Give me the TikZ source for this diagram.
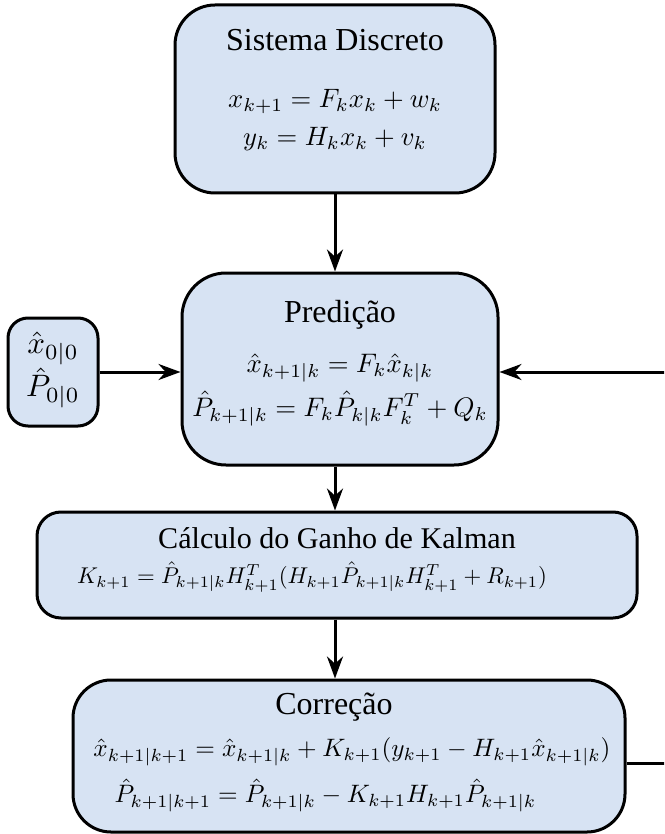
\documentclass[tikz,border=0pt]{standalone}
\usepackage{amssymb,amsmath}
\usepackage{fontspec}
\setmainfont{Liberation Serif}
\usetikzlibrary{arrows.meta,positioning}

\definecolor{azulbloco}{RGB}{215,227,243}
\tikzset{
  bloco/.style={draw,line width=1.5pt,fill=azulbloco,rounded corners=#1,inner sep=0pt},
  titulo/.style={scale=1.6},
  eqs/.style={scale=#1,align=center,inner sep=0pt},
  seta/.style={line width=1.5pt,-{Stealth[length=11pt,width=8pt]}}
}

\begin{document}
\begin{tikzpicture}[x=0.5pt,y=-0.5pt]
\useasboundingbox (0,0) rectangle (664,834);
\clip (0,0) rectangle (664,834);

%Blocos
\node[bloco=20pt,minimum width=160pt,minimum height=94pt] (sis) at (335,99) {};
\node[bloco=22pt,minimum width=158pt,minimum height=96pt] (pred) at (340,369) {};
\node[bloco=10pt,minimum width=45pt,minimum height=54pt] (ini) at (53,372) {};
\node[bloco=12pt,minimum width=300pt,minimum height=53pt] (kal) at (337,565) {};
\node[bloco=19pt,minimum width=276pt,minimum height=76pt] (cor) at (349,756) {};

%Textos
\node[titulo] (sistit) at (335,40) {Sistema Discreto};
\node[eqs=1.33] (siseq) at (335,120) {$x_{k+1}=F_kx_k+w_k$\\[2.6pt]$y_k=H_kx_k+v_k$};
\node[titulo] (predtit) at (340,315) {Predição};
\node[eqs=1.34] (predeq) at (340,390) {$\hat{x}_{k+1|k}=F_k\hat{x}_{k|k}$\\[2.4pt]$\hat{P}_{k+1|k}=F_k\hat{P}_{k|k}F_k^T+Q_k$};
\node[eqs=1.55] (inieq) at (53,370) {$\hat{x}_{0|0}$\\$\hat{P}_{0|0}$};
\node[titulo,scale=0.94] (kaltit) at (337,538) {Cálculo do Ganho de Kalman};
\node[eqs=1.14] (kaleq) at (312,577) {$K_{k+1}=\hat{P}_{k+1|k}H_{k+1}^T(H_{k+1}\hat{P}_{k+1|k}H_{k+1}^T+R_{k+1})$};
\node[titulo] (cortit) at (334,707) {Correção};
\node[eqs=1.26] (coreq1) at (352,752) {$\hat{x}_{k+1|k+1}=\hat{x}_{k+1|k}+K_{k+1}(y_{k+1}-H_{k+1}\hat{x}_{k+1|k})$};
\node[eqs=1.26,anchor=west] (coreq2) at (114,795) {$\hat{P}_{k+1|k+1}=\hat{P}_{k+1|k}-K_{k+1}H_{k+1}\hat{P}_{k+1|k}$};

%Setas
\draw[seta] (sis.south) -- (sis.south |- pred.north);
\draw[seta] (ini.east) -- (ini.east -| pred.west);
\draw[seta] (pred.south -| sis.south) -- (sis.south |- kal.north);
\draw[seta] (kal.south -| sis.south) -- (sis.south |- cor.north);

%Realimentacao
\coordinate (dir) at (700,763);
\draw[seta] (cor.east |- dir) -- (dir) -- (dir |- ini.east) -- (pred.east |- ini.east);

\end{tikzpicture}
\end{document}
